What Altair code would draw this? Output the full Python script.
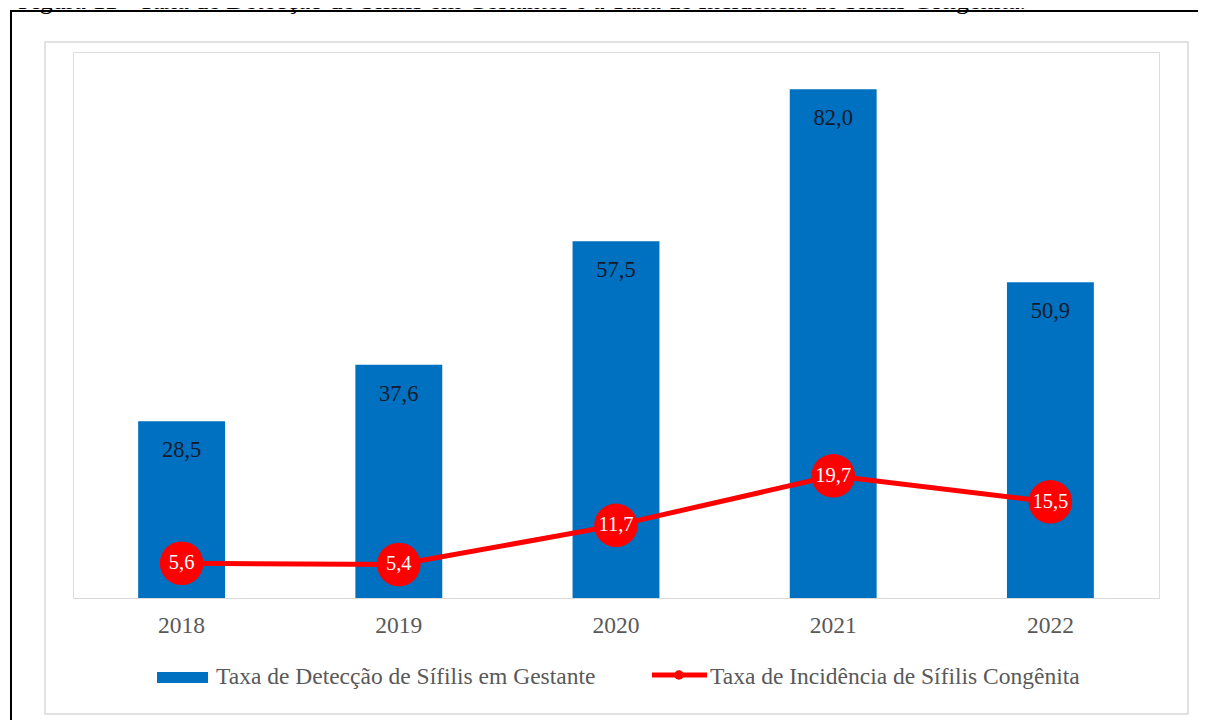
import altair as alt
import pandas as pd

# ---- data ----
anos = ["2018", "2019", "2020", "2021", "2022"]
deteccao = [28.5, 37.6, 57.5, 82.0, 50.9]        # Taxa de Detecção de Sífilis em Gestante
incidencia = [5.6, 5.4, 11.7, 19.7, 15.5]        # Taxa de Incidência de Sífilis Congênita
serie_nomes = ["Taxa de Detecção de Sífilis em Gestante",
               "Taxa de Incidência de Sífilis Congênita"]
titulo = ("Figura 11 - Taxa de Detecção de Sífilis em Gestantes e a Taxa de "
          "Incidência de Sífilis Congênita.")

df = pd.DataFrame({"ano": anos, "det": deteccao, "inc": incidencia})

FONT = "Liberation Serif"
BLUE = "#0070C0"
RED = "#FF0000"
GRAY_TXT = "#595959"
LINE_GRAY = "#d9d9d9"

W, H = 1086, 546
yscale = alt.Scale(domain=[0, 88])

xenc = alt.X(
    "ano:N",
    sort=anos,
    scale=alt.Scale(paddingInner=0.6, paddingOuter=0.3),
    axis=alt.Axis(title=None, labelAngle=0, ticks=False, grid=False,
                  domainColor=LINE_GRAY, domainWidth=1,
                  labelFont=FONT, labelFontSize=23.5, labelColor=GRAY_TXT,
                  labelPadding=15),
)

base = alt.Chart(df)
one = alt.Data(values=[{"a": 1}])

# decorations (frames)
outer = alt.Chart(one).mark_rect(fillOpacity=0, stroke="black", strokeWidth=2).encode(
    x=alt.value(-62), x2=alt.value(1160), y=alt.value(-41), y2=alt.value(720))
inner = alt.Chart(one).mark_rect(fillOpacity=0, stroke=LINE_GRAY, strokeWidth=1.5).encode(
    x=alt.value(-28), x2=alt.value(1115), y=alt.value(-10), y2=alt.value(662))
title = alt.Chart(one).mark_text(text=titulo, align="left", baseline="alphabetic",
                                 font=FONT, fontSize=26, color="black").encode(
    x=alt.value(-55), y=alt.value(-43))

bars = base.mark_bar(color=BLUE).encode(
    x=xenc, y=alt.Y("det:Q", scale=yscale, axis=None))
bar_lbl = base.transform_calculate(
    lab="replace(format(datum.det, '.1f'), '.', ',')"
).mark_text(dy=29, baseline="middle", font=FONT, fontSize=22.5, color="#141a2a").encode(
    x=xenc, y=alt.Y("det:Q", scale=yscale, axis=None), text="lab:N")

line = base.mark_line(color=RED, strokeWidth=5).encode(
    x=xenc, y=alt.Y("inc:Q", scale=yscale, axis=None))
dots = base.mark_circle(size=1900, color=RED, opacity=1).encode(
    x=xenc, y=alt.Y("inc:Q", scale=yscale, axis=None))
dot_lbl = base.transform_calculate(
    lab="replace(format(datum.inc, '.1f'), '.', ',')"
).mark_text(baseline="middle", font=FONT, fontSize=20.5, color="white").encode(
    x=xenc, y=alt.Y("inc:Q", scale=yscale, axis=None), text="lab:N")

# legend
leg_sw = alt.Chart(one).mark_rect(color=BLUE).encode(
    x=alt.value(84), x2=alt.value(135), y=alt.value(620), y2=alt.value(631))
leg_t1 = alt.Chart(one).mark_text(text=serie_nomes[0], align="left", baseline="middle",
                                  font=FONT, fontSize=23.5, color=GRAY_TXT).encode(
    x=alt.value(143), y=alt.value(625))
leg_ln = alt.Chart(one).mark_rule(color=RED, strokeWidth=5).encode(
    x=alt.value(579), x2=alt.value(634), y=alt.value(623))
leg_pt = alt.Chart(one).mark_circle(size=90, color=RED, opacity=1).encode(
    x=alt.value(606), y=alt.value(623))
leg_t2 = alt.Chart(one).mark_text(text=serie_nomes[1], align="left", baseline="middle",
                                  font=FONT, fontSize=23.5, color=GRAY_TXT).encode(
    x=alt.value(637), y=alt.value(625))

chart = alt.layer(
    outer, inner, title, bars, bar_lbl, line, dots, dot_lbl,
    leg_sw, leg_t1, leg_ln, leg_pt, leg_t2
).properties(
    width=W, height=H,
    autosize=alt.AutoSizeParams(type="none"),
    padding={"left": 65, "top": 44, "right": 39, "bottom": 122},
).configure_view(stroke=None).configure(background="white")

chart.save("out.html", embed_options={"renderer": "svg", "actions": False})
